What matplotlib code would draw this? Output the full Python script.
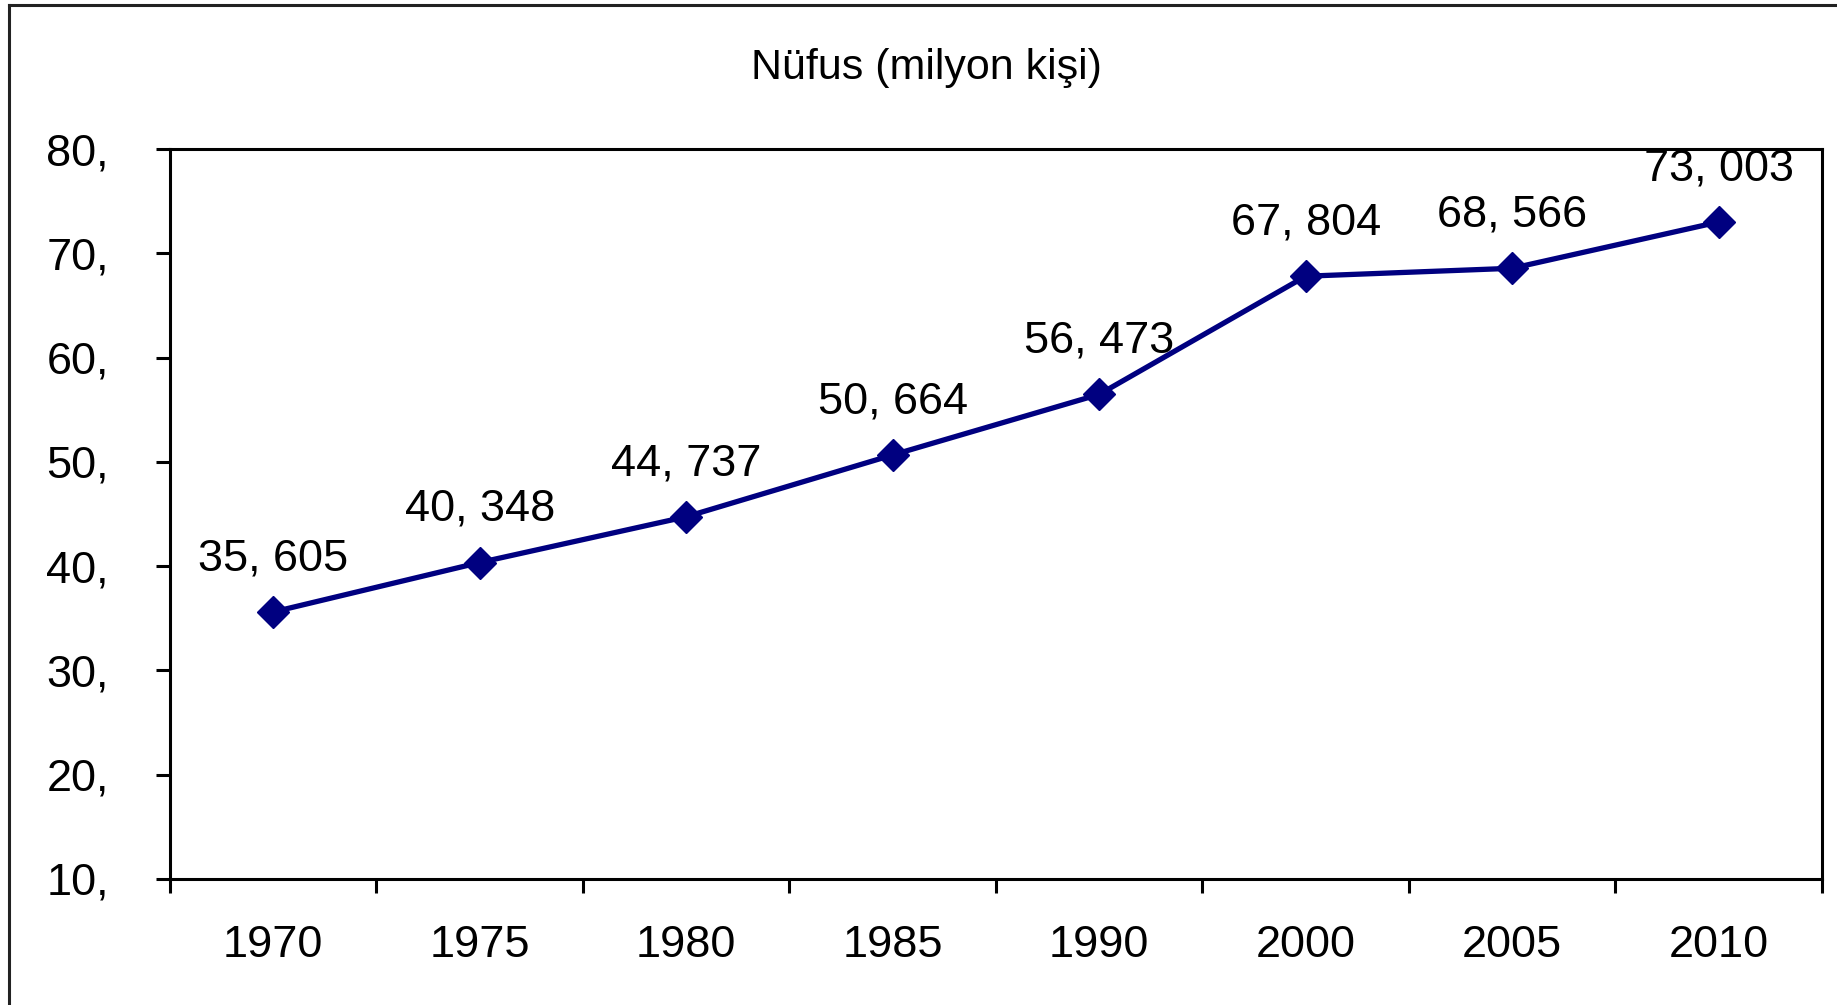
import matplotlib
matplotlib.use("Agg")
import matplotlib.pyplot as plt
from matplotlib.lines import Line2D

# veriler
years = ["1970", "1975", "1980", "1985", "1990", "2000", "2005", "2010"]
population = [35.605, 40.348, 44.737, 50.664, 56.473, 67.804, 68.566, 73.003]
y_ticks = [10, 20, 30, 40, 50, 60, 70, 80]
title = "Nüfus (milyon kişi)"

plt.rcParams['font.family'] = ['Liberation Sans', 'DejaVu Sans']

fig = plt.figure(figsize=(18.37, 10.05), dpi=100)
ax = fig.add_axes([0.0925, 0.1254, 0.8993, 0.7263])

x = list(range(len(years)))
ax.plot(x, population, color='#000080', linewidth=3.8, marker='D',
        markersize=16.5, markeredgecolor='#000080', markerfacecolor='#000080',
        zorder=3)

for xi, v in zip(x, population):
    label = f"{v:.3f}".replace('.', ', ')
    ax.annotate(label, (xi, v), xytext=(0, 30), textcoords='offset points',
                ha='center', va='baseline', fontsize=32.5, zorder=4,
                annotation_clip=False)

ax.set_xlim(-0.5, len(years) - 0.5)
ax.set_ylim(10, 80)

# Excel tarzı: tik çizgileri kategori sınırlarında, etiketler ortada
ax.set_xticks([i - 0.5 for i in range(len(years) + 1)])
ax.set_xticklabels([])
ax.set_xticks(x, minor=True)
ax.set_xticklabels(years, minor=True, fontsize=32.5)
ax.tick_params(axis='x', which='major', direction='out', length=10, width=2.2)
ax.tick_params(axis='x', which='minor', length=0, pad=33)

ax.set_yticks(y_ticks)
ax.set_yticklabels([f"{t}," for t in y_ticks], fontsize=32.5)
ax.tick_params(axis='y', direction='out', length=10, width=2.2, pad=34)

for sp in ax.spines.values():
    sp.set_linewidth(2.2)
    sp.set_color('black')

fig.text(926 / 1837, 1 - 68 / 1005, title, ha='center', va='center',
         fontsize=31)

# dış çerçeve (sol ve üst kenar)
x0 = 9 / 1837
y0 = 1 - 5 / 1005
fig.add_artist(Line2D([x0, x0], [0, y0], color='#222222', linewidth=2.2))
fig.add_artist(Line2D([x0, 1], [y0, y0], color='#222222', linewidth=2.2))

fig.savefig("out.png", dpi=100)
